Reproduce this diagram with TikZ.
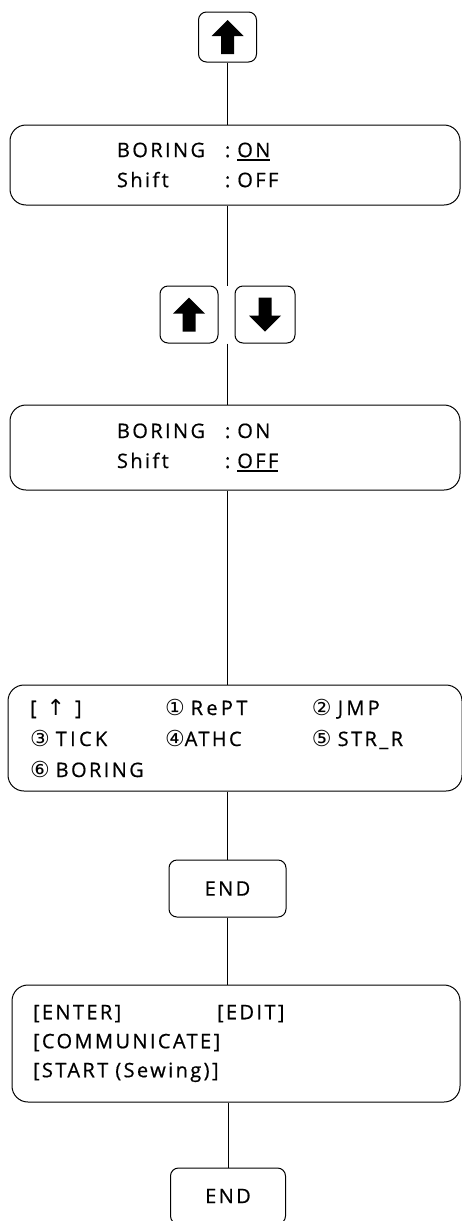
\documentclass[tikz,border=0pt]{standalone}
\usepackage{fontspec}
\setmainfont{Open Sans}
\newfontfamily\screenfont{Open Sans}[LetterSpace=12, FakeBold=0.6]
\newfontfamily\symfont{DejaVu Sans}
\usepackage{tikz}
\usetikzlibrary{positioning}

% underline used as the cursor mark
\newcommand{\cursor}[1]{\setbox0\hbox{#1}\rlap{\rule[-3.5pt]{\wd0}{1.5pt}}\box0}
% circled menu numbers
\newcommand{\num}[1]{{\fontsize{22}{22}\symfont #1}}
% block arrow drawn inside a key, #2 = 1 up, -1 down
\newcommand{\keyarrow}[2]{%
  \fill[shift={(#1.center)}, yscale=#2]
    (0,-17) -- (16,-1) -- (6.5,-1) -- (6.5,17) -- (-6.5,17) -- (-6.5,-1) -- (-16,-1) -- cycle;}

\begin{document}
\begin{tikzpicture}[
  x=1pt, y=-1pt,
  screen/.style={draw, line width=1pt, rounded corners=16pt, minimum width=450pt,
                 inner sep=0pt, align=left, font=\fontsize{20}{30}\screenfont},
  key/.style={draw, line width=1pt, rounded corners=8pt, minimum width=58pt,
              minimum height=57pt, inner sep=0pt, font=\fontsize{20}{22}\screenfont},
  conn/.style={line width=0.8pt},
]
  \useasboundingbox (0,0) rectangle (462,1221);

  \node[key, minimum height=50pt] (upkey) at (227.5,37) {};
  \node[screen, minimum height=80pt, text width=236pt] (boron) at (235,165)
    {\makebox[108pt][l]{BORING}:\hspace{7pt}\cursor{ON}\\
     \makebox[108pt][l]{Shift}:\hspace{7pt}OFF};

  \node[key] (keyup) at (189,314.5) {};
  \node[key, minimum width=60pt, right=16pt of keyup] (keydown) {};
  \coordinate (gap) at (227,314.5);

  \node[screen, minimum height=85pt, text width=236pt] (shifton) at (235,447.5)
    {\makebox[108pt][l]{BORING}:\hspace{7pt}ON\\
     \makebox[108pt][l]{Shift}:\hspace{7pt}\cursor{OFF}};

  \node[screen, minimum width=454pt, minimum height=106pt, text width=410pt,
        font=\fontsize{20}{31}\screenfont] (menu) at (235,738)
    {\makebox[135pt][l]{[\hspace{10pt}\num{↑}\hspace{10pt}]}\makebox[147pt][l]{\num{①}\hspace{6pt}R\,e\,P\,T}\num{②}\hspace{6pt}J\,M\,P\\
     \makebox[135pt][l]{\num{③}\hspace{6pt}T\,I\,C\,K}\makebox[147pt][l]{\num{④}ATHC}\num{⑤}\hspace{6pt}STR\_R\\
     \num{⑥}\hspace{6pt}BORING};

  \node[key, minimum width=117pt] (endone) at (227.5,888.5) {END};

  \node[screen, minimum width=448pt, minimum height=117pt, text width=406pt,
        font=\fontsize{20}{29}\screenfont] (mainmenu) at (236,1043.5)
    {\makebox[184pt][l]{[ENTER]}[EDIT]\\{}[COMMUNICATE]\\{}[START\hspace{7pt}(Sewing)]};

  \node[key, minimum width=115pt, minimum height=56pt] (endtwo) at (228,1196) {END};

  \keyarrow{upkey}{1}
  \keyarrow{keyup}{1}
  \keyarrow{keydown}{-1}

  \draw[conn] (upkey.south) -- (upkey.south |- boron.north);
  \draw[conn] (boron.south -| gap) -- (gap |- keyup.north);
  \draw[conn] (gap |- keyup.south) -- (shifton.north -| gap);
  \draw[conn] (shifton.south -| gap) -- (menu.north -| gap);
  \draw[conn] (menu.south -| gap) -- (endone.north -| gap);
  \draw[conn] (endone.south -| gap) -- (mainmenu.north -| gap);
  \draw[conn] (mainmenu.south -| endtwo) -- (endtwo.north);
\end{tikzpicture}
\end{document}
